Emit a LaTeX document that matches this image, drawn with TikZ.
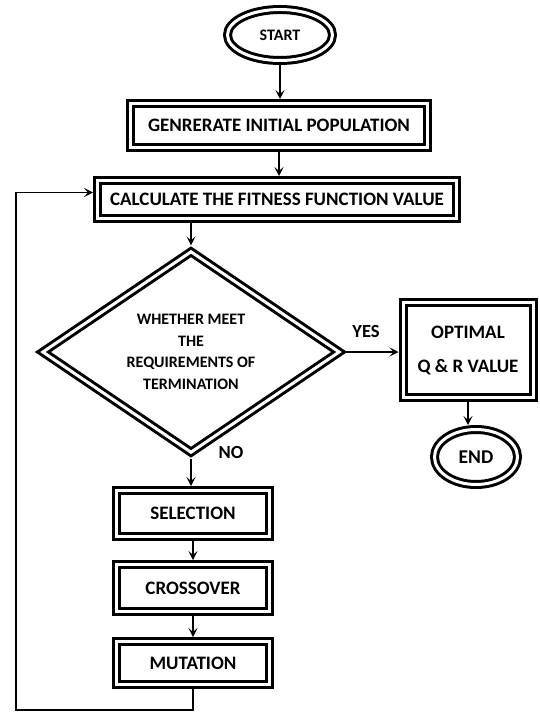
\documentclass[tikz,border=0pt]{standalone}
\usepackage{fontspec}
\setmainfont{Carlito}
\usetikzlibrary{shapes.geometric,arrows.meta}

\tikzset{
  dblbox/.style={draw, line width=3pt, double, double distance=3pt, outer sep=4.5pt,
    inner sep=0pt, font=\bfseries\fontsize{19}{22}\selectfont},
  dblellipse/.style={dblbox, ellipse},
  link/.style={line width=1.4pt, -{Stealth[length=9pt,width=9pt,inset=4pt]}},
  lbl/.style={font=\bfseries\fontsize{18.5}{22}\selectfont},
}

\begin{document}
\begin{tikzpicture}[x=1pt,y=-1pt]
\useasboundingbox (0,0) rectangle (539,712);
% the blocks
\node (start) [dblellipse, minimum width=105, minimum height=51,
  font=\bfseries\fontsize{16}{18}\selectfont] at (280,35) {START};
\node (gen) [dblbox, minimum width=297, minimum height=44] at (279,125.5) {GENRERATE INITIAL POPULATION};
\node (calc) [dblbox, minimum width=359, minimum height=38] at (277,199.5) {CALCULATE THE FITNESS FUNCTION VALUE};
\node (dec) [dblbox, diamond, minimum width=300, minimum height=194, align=center,
  font=\bfseries\fontsize{16}{21.7}\selectfont] at (191,352)
  {WHETHER MEET\\THE\\REQUIREMENTS OF\\TERMINATION};
\node (opt) [dblbox, minimum width=130, minimum height=95, align=center,
  font=\bfseries\fontsize{19}{34}\selectfont] at (468,350) {OPTIMAL\\Q \& R VALUE};
\node (end) [dblellipse, minimum width=83, minimum height=55,
  font=\bfseries\fontsize{19.5}{22}\selectfont] at (476,457) {END};
\node (sel) [dblbox, minimum width=153, minimum height=46] at (193,513.5) {SELECTION};
\node (cross) [dblbox, minimum width=153, minimum height=47] at (193,588) {CROSSOVER};
\node (mut) [dblbox, minimum width=153, minimum height=43] at (193,663) {MUTATION};
\node (yes) [lbl] at (366,331) {YES};
\node (no) [lbl] at (231,452) {NO};
\coordinate (loopbl) at (16,710);
% the links
\draw [link] (start.south) -- (start.south |- gen.north);
\draw [link] (gen.south) -- (gen.south |- calc.north);
\draw [link] (calc.south -| dec.north) -- (dec.north);
\draw [link] (dec.east) -- (dec.east -| opt.west);
\draw [link] (opt.south) -- (opt.south |- end.north);
\draw [link] (dec.south) -- (dec.south |- sel.north);
\draw [link] (sel) -- (cross);
\draw [link] (cross) -- (mut);
\draw [link] (mut.south) |- (loopbl) |- ([yshift=7pt]calc.west);
\end{tikzpicture}
\end{document}
